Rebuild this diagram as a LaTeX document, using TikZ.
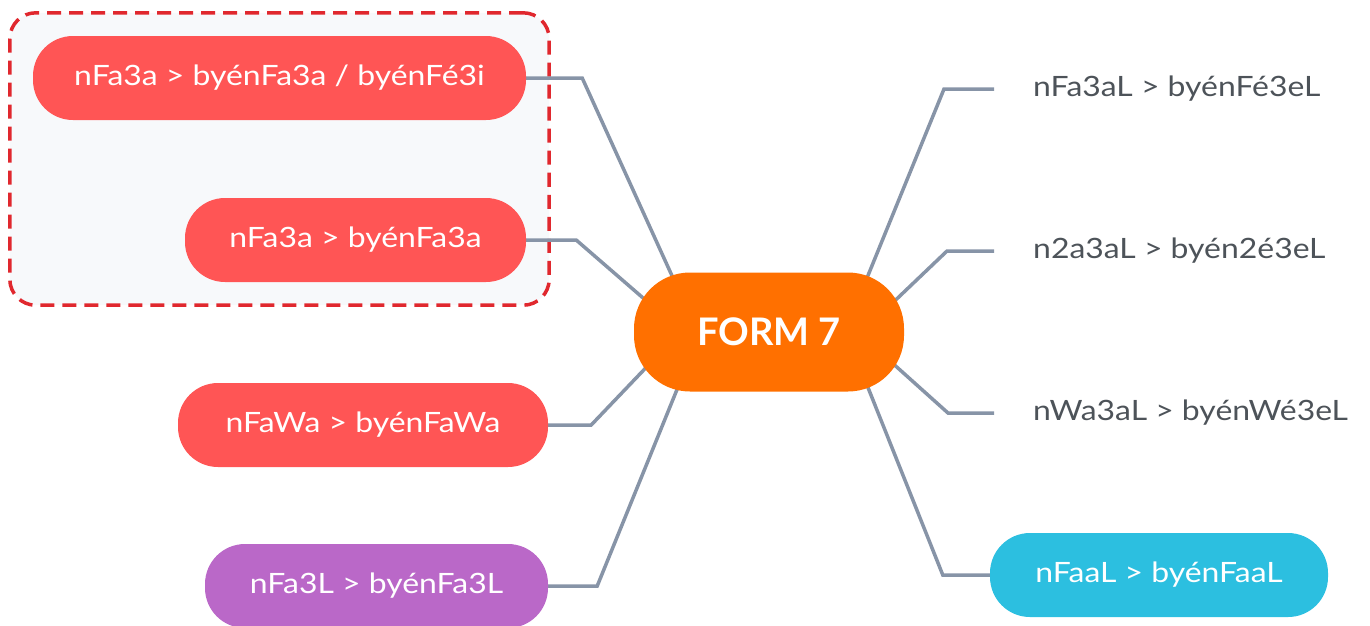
\documentclass[tikz,border=0pt]{standalone}
\usepackage{fontspec}
\setmainfont{Lato}
\newfontfamily\lblfont{Lato}[FakeStretch=1.14]
\usetikzlibrary{calc,fit,backgrounds}
\definecolor{nodered}{HTML}{FF5555}
\definecolor{nodepurple}{HTML}{BA68C8}
\definecolor{nodecyan}{HTML}{2CBFE0}
\definecolor{nodeorange}{HTML}{FF7000}
\definecolor{linkgray}{HTML}{8794A7}
\definecolor{dashred}{HTML}{E0282E}
\definecolor{boxfill}{HTML}{F7F9FB}
\definecolor{textgray}{HTML}{4D5359}
\pgfdeclarelayer{boxlayer}
\pgfdeclarelayer{linelayer}
\pgfsetlayers{boxlayer,linelayer,main}
\tikzset{
  pill/.style={draw=none, rounded corners=40pt, minimum height=84pt, inner sep=0pt,
    text=white, font=\lblfont\fontsize{28}{33}\selectfont, text height=20pt, text depth=5pt},
  rtext/.style={anchor=west, inner xsep=39pt, inner ysep=0pt, text=textgray,
    font=\lblfont\fontsize{28}{33}\selectfont, text height=20pt, text depth=5pt},
  hub/.style={fill=nodeorange, rounded corners=56pt, minimum width=270pt, minimum height=119pt,
    inner sep=0pt, text=white, font=\bfseries\fontsize{38}{44}\selectfont, text height=27pt, text depth=0pt},
  link/.style={draw=linkgray, line width=3.5pt, line join=miter},
  groupbox/.style={draw=dashred, fill=boxfill, line width=3.5pt, dash pattern=on 14pt off 8pt,
    rounded corners=26pt, inner sep=23pt}
}
\begin{document}
\begin{tikzpicture}[x=1pt,y=-1pt]
\useasboundingbox (0,0) rectangle (1370,625);
% nodes
\node[hub] (c) at (769,332) {FORM 7};
\node[pill, fill=nodered, minimum width=493pt] (n1) at (279.5,78) {nFa3a > byénFa3a / byénFé3i};
\node[pill, fill=nodered, minimum width=341pt] (n2) at (355.5,240) {nFa3a > byénFa3a};
\node[pill, fill=nodered, minimum width=370pt] (n3) at (363,425) {nFaWa > byénFaWa};
\node[pill, fill=nodepurple, minimum width=343pt] (n4) at (376.5,586) {nFa3L > byénFa3L};
\node[rtext] (r1) at (994,89) {nFa3aL > byénFé3eL};
\node[rtext] (r2) at (994,251) {n2a3aL > byén2é3eL};
\node[rtext] (r3) at (994,413) {nWa3aL > byénWé3eL};
\node[pill, fill=nodecyan, minimum width=338pt] (r4) at (1159,575) {nFaaL > byénFaaL};
% group box
\begin{pgfonlayer}{boxlayer}
\node[groupbox, fit=(n1)(n2)] (grp) {};
\end{pgfonlayer}
% connectors
\begin{pgfonlayer}{linelayer}
\draw[link] (n1.east) -- ++(56,0) -- ($(c.center)+(-86,-32)$);
\draw[link] (n2.east) -- ++(50,0) -- ($(c.center)+(-89,-2)$);
\draw[link] (n3.east) -- ++(43,0) -- ($(c.center)+(-89,0)$);
\draw[link] (n4.east) -- ++(49,0) -- ($(c.center)+(-80,28)$);
\draw[link] (r1.west) -- ++(-50,0) -- ($(c.center)+(89,-32)$);
\draw[link] (r2.west) -- ++(-47,0) -- ($(c.center)+(91,2)$);
\draw[link] (r3.west) -- ++(-46,0) -- ($(c.center)+(91,2)$);
\draw[link] (r4.west) -- ++(-47,0) -- ($(c.center)+(88,28)$);
\end{pgfonlayer}
\end{tikzpicture}
\end{document}
